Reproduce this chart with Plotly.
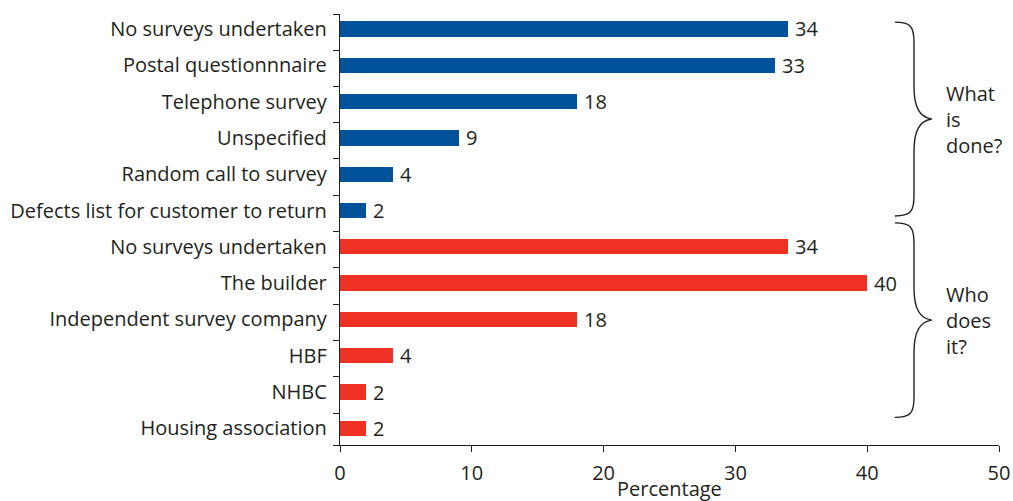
import plotly.graph_objects as go

# Survey practices: what is done, and who does it (percent of respondents)
what_labels = ["No surveys undertaken", "Postal questionnnaire", "Telephone survey",
               "Unspecified", "Random call to survey", "Defects list for customer to return"]
what_values = [34, 33, 18, 9, 4, 2]

who_labels = ["No surveys undertaken", "The builder", "Independent survey company",
              "HBF", "NHBC", "Housing association"]
who_values = [34, 40, 18, 4, 2, 2]

x_ticks = [0, 10, 20, 30, 40, 50]

BLUE = "#00539B"
RED = "#EE3124"
INK = "#231F20"
FONT = "Open Sans"
FS = 20

labels = what_labels + who_labels
values = what_values + who_values
pos = list(range(len(labels)))
what_pos = pos[:len(what_labels)]
who_pos = pos[len(what_labels):]

Y_TOP, Y_BOTTOM = -0.413, 11.46
# separator ticks between the category rows
sep_ticks = [Y_TOP] + [p + 0.58 for p in pos[:-1]] + [Y_BOTTOM]

fig = go.Figure()
fig.add_trace(go.Bar(y=what_pos, x=what_values, orientation="h", width=0.42,
                     marker=dict(color=BLUE, line=dict(width=0)), showlegend=False,
                     hoverinfo="x+y"))
fig.add_trace(go.Bar(y=who_pos, x=who_values, orientation="h", width=0.42,
                     marker=dict(color=RED, line=dict(width=0)), showlegend=False,
                     hoverinfo="x+y"))

# value labels just past the bar ends
for p, v in zip(pos, values):
    fig.add_annotation(x=v, y=p, text=str(v), xanchor="left", yanchor="middle",
                       xshift=5, showarrow=False,
                       font=dict(family=FONT, size=FS, color=INK))

# curly braces grouping the two blocks
def brace(y0, y1, xl=42.1, xv=43.55, xt=44.9):
    ym = (y0 + y1) / 2
    return (f"M {xl},{y0} C {xv-0.3},{y0} {xv},{y0+0.1} {xv},{y0+0.55} "
            f"L {xv},{ym-0.9} C {xv},{ym-0.3} {xv+0.45},{ym-0.05} {xt},{ym} "
            f"C {xv+0.45},{ym+0.05} {xv},{ym+0.3} {xv},{ym+0.9} "
            f"L {xv},{y1-0.55} C {xv},{y1-0.1} {xv-0.3},{y1} {xl},{y1}")

groups = [(-0.19, 5.15, "What<br>is<br>done?"), (5.34, 10.7, "Who<br>does<br>it?")]
for y0, y1, txt in groups:
    fig.add_shape(type="path", path=brace(y0, y1), xref="x", yref="y",
                  line=dict(color=INK, width=1.4))
    fig.add_annotation(x=45.8, y=(y0 + y1) / 2, text=txt, xanchor="left",
                       yanchor="middle", align="left", showarrow=False,
                       font=dict(family=FONT, size=FS, color=INK))

fig.add_annotation(x=0.5, y=-0.0998, xref="paper", yref="paper", text="Percentage",
                   showarrow=False, xanchor="center", yanchor="middle",
                   font=dict(family=FONT, size=FS, color=INK))

fig.update_layout(
    width=1013, height=501,
    margin=dict(l=340, r=14, t=14, b=56),
    paper_bgcolor="white", plot_bgcolor="white",
    font=dict(family=FONT, size=FS, color=INK),
    bargap=0,
)
fig.update_xaxes(range=[0, 50], tickvals=x_ticks, ticks="outside", ticklen=6,
                 tickwidth=1.4, tickcolor=INK, showline=True, linecolor=INK,
                 linewidth=1.4, showgrid=False, zeroline=False, automargin=False,
                 ticklabelstandoff=4,
                 tickfont=dict(family=FONT, size=FS, color=INK))
fig.update_yaxes(range=[Y_BOTTOM, Y_TOP], tickvals=pos, ticktext=labels,
                 ticks="", ticklabelstandoff=8, showline=True, linecolor=INK,
                 linewidth=1.4, showgrid=False, zeroline=False, automargin=False,
                 tickfont=dict(family=FONT, size=FS, color=INK),
                 minor=dict(tickvals=sep_ticks, ticks="outside", ticklen=6,
                            tickwidth=1.4, tickcolor=INK, showgrid=False))

fig.write_html("out.html")
